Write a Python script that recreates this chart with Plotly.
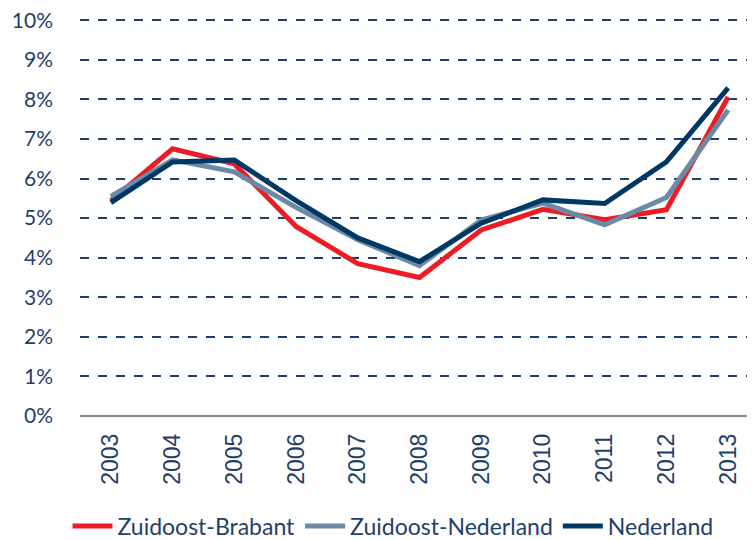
import plotly.graph_objects as go

years = ['2003', '2004', '2005', '2006', '2007', '2008', '2009', '2010', '2011', '2012', '2013']
zuidoost_brabant = [5.44, 6.75, 6.37, 4.79, 3.85, 3.5, 4.7, 5.22, 4.96, 5.21, 8.06]
zuidoost_nederland = [5.55, 6.47, 6.17, 5.27, 4.45, 3.8, 4.95, 5.38, 4.83, 5.52, 7.73]
nederland = [5.39, 6.42, 6.47, 5.44, 4.5, 3.9, 4.87, 5.46, 5.37, 6.42, 8.29]

text_col = '#1F3F6B'
fig = go.Figure()

# one trace per region
series = [
    ('Zuidoost-Brabant', zuidoost_brabant, '#ED1C24'),
    ('Zuidoost-Nederland', zuidoost_nederland, '#6A8AA8'),
    ('Nederland', nederland, '#003865'),
]
for name, vals, col in series:
    fig.add_trace(go.Scatter(x=years, y=vals, name=name, mode='lines',
                             line=dict(color=col, width=5)))

# page body adds an 8px margin, so margins are set 8px smaller
fig.update_layout(
    width=751, height=540,
    margin=dict(l=72, r=0, t=11, b=132),
    plot_bgcolor='white', paper_bgcolor='white',
    font=dict(family='Lato, Noto Sans, sans-serif', color=text_col, size=22),
    legend=dict(orientation='h', x=0.461, xanchor='center', y=-0.277, yanchor='middle',
                font=dict(size=23), itemwidth=40, tracegroupgap=0),
    xaxis=dict(type='category', range=[-0.5, 10.5], showgrid=False, tickangle=-90,
               tickfont=dict(family='Liberation Sans, Arial', size=23, color=text_col),
               ticks='', showline=False, ticklabelstandoff=12, automargin=False),
    yaxis=dict(range=[0, 10.03], dtick=1, ticksuffix='%', showgrid=True,
               gridcolor='#1F3F6B', griddash='dash', gridwidth=1.5,
               zeroline=True, zerolinecolor='#888888', zerolinewidth=2,
               tickfont=dict(size=21, color=text_col), ticks='', showline=False,
               ticklabelstandoff=26, automargin=False, ticklabeloverflow='allow'),
)

fig.write_html("out.html")
